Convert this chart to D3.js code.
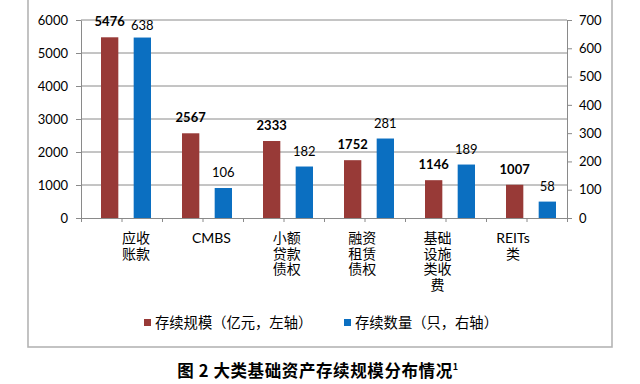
<!DOCTYPE html>
<html>
<head>
<meta charset="utf-8">
<script src="https://cdn.jsdelivr.net/npm/d3@7"></script>
<style>
  body { margin: 0; background: #fff; }
  svg { display: block; }
  .tick text { font-family: Lato, "Open Sans", sans-serif; font-size: 13px; fill: #000; }
  .tick line, .domain { stroke: #8a8a8a; }
</style>
</head>
<body>
<div id="chart"></div>
<script>
// data
const categories = ["应收账款", "CMBS", "小额贷款债权", "融资租赁债权", "基础设施类收费", "REITs类"];
const labelLines = [["应收", "账款"], ["CMBS"], ["小额", "贷款", "债权"], ["融资", "租赁", "债权"], ["基础", "设施", "类收", "费"], ["REITs", "类"]];
const scaleVals = [5476, 2567, 2333, 1752, 1146, 1007];   // 存续规模, left axis
const countVals = [638, 106, 182, 281, 189, 58];           // 存续数量, right axis
const leftTicks = [0, 1000, 2000, 3000, 4000, 5000, 6000];
const rightTicks = [0, 100, 200, 300, 400, 500, 600, 700];
const seriesNames = ["存续规模（亿元，左轴）", "存续数量（只，右轴）"];

const colors = { red: "#983a37", blue: "#0b6fc1", grid: "#8a8a8a", frame: "#b4b4b4" };

const width = 640, height = 384;
const plot = { left: 81, right: 567, top: 20, bottom: 218 };

const svg = d3.select("#chart").append("svg")
    .attr("width", width).attr("height", height);

// outer frame
svg.append("rect")
    .attr("x", 28).attr("y", -3).attr("width", 584).attr("height", 350)
    .attr("fill", "none").attr("stroke", colors.frame).attr("stroke-width", 1.6);

const x = d3.scaleBand().domain(categories).range([plot.left, plot.right]);
const xs = d3.scaleBand().domain(["scale", "count"]).range([20, 70]).paddingInner(0.47);
const xl = d3.scalePoint().domain(categories).range([136, 513]);
const yL = d3.scaleLinear().domain([0, 6000]).range([plot.bottom, plot.top]);
const yR = d3.scaleLinear().domain([0, 700]).range([plot.bottom, plot.top]);

// gridlines
svg.append("g").selectAll("line").data(leftTicks.slice(1)).join("line")
    .attr("x1", plot.left).attr("x2", plot.right)
    .attr("y1", d => yL(d)).attr("y2", d => yL(d))
    .attr("stroke", colors.grid).attr("stroke-width", 1);

// axes
svg.append("g").attr("transform", `translate(${plot.left},0)`)
    .call(d3.axisLeft(yL).tickValues(leftTicks).tickFormat(d3.format("d")).tickSize(5).tickPadding(8).tickSizeOuter(0));
svg.append("g").attr("transform", `translate(${plot.right},0)`)
    .call(d3.axisRight(yR).tickValues(rightTicks).tickFormat(d3.format("d")).tickSize(5).tickPadding(7).tickSizeOuter(0));

const xt = d3.scaleLinear().domain([0, categories.length * 2]).range([plot.left, plot.right]);
svg.append("g").attr("transform", `translate(0,${plot.bottom})`)
    .call(d3.axisBottom(xt).tickValues(d3.range(categories.length * 2 + 1)).tickFormat("").tickSize(4).tickSizeOuter(0));

// bars
const g = svg.append("g");
g.selectAll(".bar-s").data(categories).join("rect")
    .attr("x", d => x(d) + xs("scale")).attr("width", xs.bandwidth())
    .attr("y", (d, i) => yL(scaleVals[i])).attr("height", (d, i) => plot.bottom - yL(scaleVals[i]))
    .attr("fill", colors.red);
g.selectAll(".bar-c").data(categories).join("rect")
    .attr("x", d => x(d) + xs("count")).attr("width", xs.bandwidth())
    .attr("y", (d, i) => yR(countVals[i])).attr("height", (d, i) => plot.bottom - yR(countVals[i]))
    .attr("fill", colors.blue);

// value labels
g.selectAll(".lab-s").data(categories).join("text")
    .attr("x", d => x(d) + xs("scale") + xs.bandwidth() / 2)
    .attr("y", (d, i) => yL(scaleVals[i]) - 11)
    .attr("text-anchor", "middle")
    .style("font-family", "Lato, 'Open Sans', sans-serif").style("font-size", "13px").style("font-weight", "bold")
    .text((d, i) => scaleVals[i]);
g.selectAll(".lab-c").data(categories).join("text")
    .attr("x", d => x(d) + xs("count") + xs.bandwidth() / 2)
    .attr("y", (d, i) => Math.max(yR(countVals[i]) - 11, 30))
    .attr("text-anchor", "middle")
    .style("font-family", "Lato, 'Open Sans', sans-serif").style("font-size", "13px")
    .text((d, i) => countVals[i]);

// category labels, wrapped
const cl = svg.append("g").selectAll("text").data(categories).join("text")
    .attr("text-anchor", "middle")
    .style("font-family", "Lato, 'Noto Sans CJK SC', sans-serif").style("font-size", "14px");
cl.each(function (d, i) {
    d3.select(this).selectAll("tspan").data(labelLines[i]).join("tspan")
        .attr("x", xl(d)).attr("y", (s, j) => 243 + j * 15.5)
        .text(s => s);
});

// legend
const legend = svg.append("g").style("font-family", "'Noto Sans CJK SC', sans-serif").style("font-size", "14.3px");
const legX = [144, 344];
[colors.red, colors.blue].forEach((c, i) => {
    legend.append("rect").attr("x", legX[i]).attr("y", 319).attr("width", 7).attr("height", 7).attr("fill", c);
    legend.append("text").attr("x", legX[i] + 11).attr("y", 328).text(seriesNames[i]);
});

// caption
const cap = svg.append("text").attr("x", 318).attr("y", 377).attr("text-anchor", "middle")
    .style("font-family", "'Noto Sans CJK SC', sans-serif").style("font-size", "16.5px").style("font-weight", "bold")
    .style("letter-spacing", "0.6px");
cap.append("tspan").text("图 2 大类基础资产存续规模分布情况");
cap.append("tspan").attr("dy", -7).style("font-size", "9px").text("1");
</script>
</body>
</html>
